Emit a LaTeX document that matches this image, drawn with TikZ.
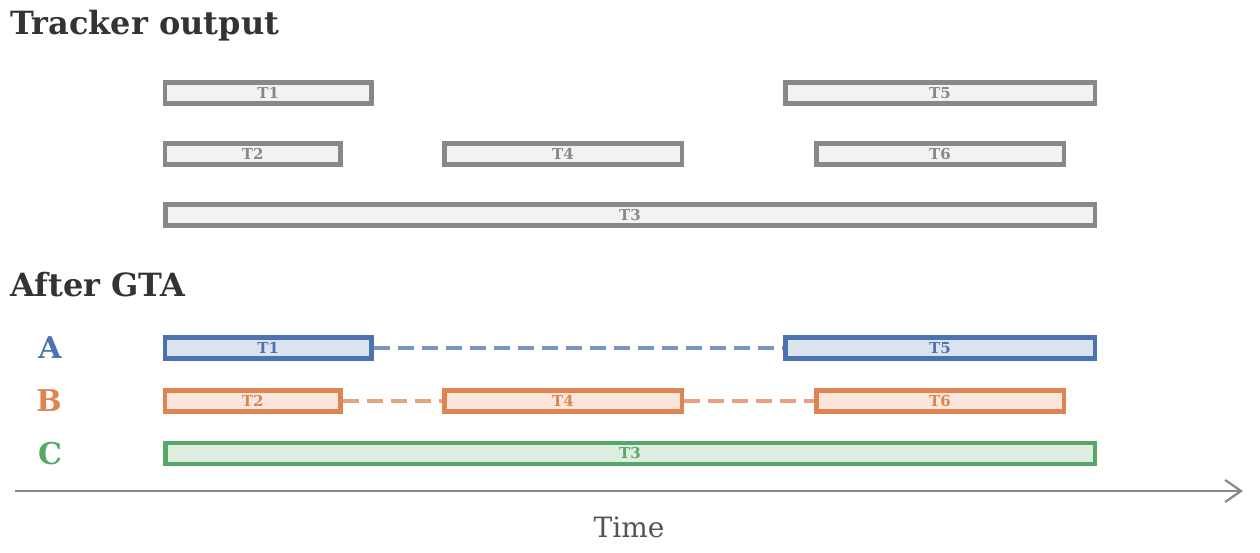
\documentclass[tikz,border=0pt]{standalone}
\usepackage{fontspec}
\setmainfont{DejaVu Serif}
\usetikzlibrary{positioning, arrows.meta}
\definecolor{mygray}{HTML}{888888}
\definecolor{mylightgray}{HTML}{F2F2F2}
\definecolor{myblue}{HTML}{4C72B0}
\definecolor{myorange}{HTML}{DD8452}
\definecolor{mygreen}{HTML}{55A868}
\definecolor{mytitle}{HTML}{333333}
\tikzset{
	trackbox/.style={
			rectangle,
			draw=mygray,
			fill=mylightgray,
			text=mygray,
			line width=4.5pt,
			minimum height=21pt,
			inner sep=0pt,
			font=\fontsize{15}{16}\selectfont\bfseries
		},
	gtabox/.style={
			trackbox,
			draw=#1,
			fill=#1!20,
			text=#1
		},
	gaplink/.style={
			draw=#1!75,
			line width=4pt,
			dash pattern=on 16pt off 8pt
		},
	heading/.style={
			anchor=base west,
			text=mytitle,
			inner sep=0pt,
			font=\fontsize{32}{34}\selectfont\bfseries
		},
	rowlabel/.style={
			text=#1,
			inner sep=0pt,
			font=\fontsize{30}{32}\selectfont\bfseries
		}
}

\begin{document}
\begin{tikzpicture}[x=1pt, y=-1pt]
\useasboundingbox (0,0) rectangle (1260,552);
\node[heading] (h1) at (10,34) {Tracker output};
\node[heading] (h2) at (10,296) {After GTA};

% tracker output
\node[trackbox, minimum width=206.5pt] (t1) at (268.2,93) {T1};
\node[trackbox, minimum width=309.5pt] (t5) at (940,93) {T5};
\node[trackbox, minimum width=175.5pt] (t2) at (252.7,154) {T2};
\node[trackbox, minimum width=237.5pt] (t4) at (563,154) {T4};
\node[trackbox, minimum width=247.5pt] (t6) at (940,154) {T6};
\node[trackbox, minimum width=929.5pt] (t3) at (630,215) {T3};

% after GTA
\node[rowlabel=myblue] (la) at (50,348) {A};
\node[rowlabel=myorange] (lb) at (49,401) {B};
\node[rowlabel=mygreen] (lc) at (50,453.5) {C};

\node[gtabox=myblue, minimum width=206.5pt] (a1) at (268.2,348) {T1};
\node[gtabox=myblue, minimum width=309.5pt] (a5) at (940,348) {T5};
\node[gtabox=myorange, minimum width=175.5pt] (b2) at (252.7,401) {T2};
\node[gtabox=myorange, minimum width=237.5pt] (b4) at (563,401) {T4};
\node[gtabox=myorange, minimum width=247.5pt] (b6) at (940,401) {T6};
\node[gtabox=mygreen, minimum width=929.5pt] (c3) at (630,453.5) {T3};

\draw[gaplink=myblue] (a1.east) -- (a5.west);
\draw[gaplink=myorange] (b2.east) -- (b4.west);
\draw[gaplink=myorange] (b4.east) -- (b6.west);

% time axis
\coordinate (tstart) at (15,491);
\coordinate (tend) at (1243,491);
\draw[mygray, line width=2.2pt, -{Straight Barb[length=16pt, width=22pt]}] (tstart) -- (tend);
\node[text=black!67, font=\fontsize{28}{30}\selectfont] (time) at (629,527) {Time};
\end{tikzpicture}
\end{document}
